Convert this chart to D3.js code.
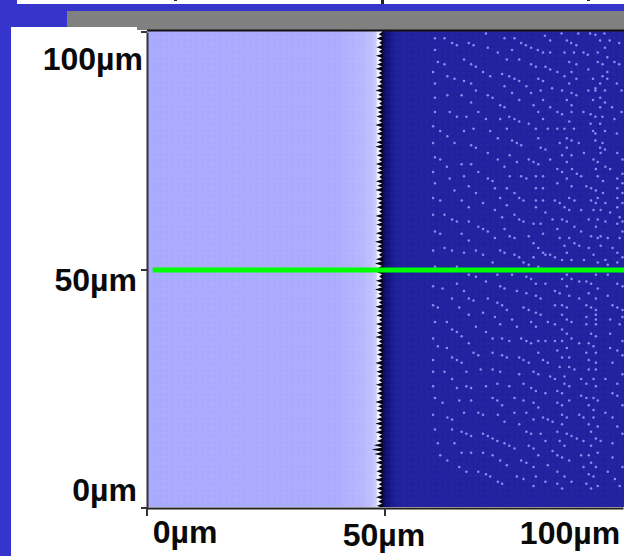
<!DOCTYPE html>
<html>
<head>
<meta charset="utf-8">
<script src="https://d3js.org/d3.v7.min.js"></script>
<style>
  html, body { margin: 0; padding: 0; background: #3535cc; overflow: hidden; }
  text { font-family: "Liberation Sans", Arial, sans-serif; font-weight: bold; fill: #0a0a0a; }
</style>
</head>
<body>
<div id="container"></div>
<script>
// axis ticks (um)
var xTicks = [0, 50, 100];
var yTicks = [0, 50, 100];
// hand placed label offsets, labels in the original are not lined up
var xLabelX = [185, 384, 570];
var xLabelY = [543, 546, 544];
var yLabelX = [137, 137, 143];
var yLabelY = [501, 291, 70];

// position of the horizontal scan line (um)
var scanY = 50;
var scanStartX = 1.2;

// interface root and tips from top to bottom (um), one tooth each
var interfaceRoot = 49.4;
var interfaceTips = [48.7, 48.3, 48.8, 48.2, 48.7, 48.1, 48.6, 48.4, 48.1, 48.7,
  48.2, 48.8, 48.3, 48.0, 48.6, 48.3, 48.8, 48.1, 48.5, 48.2,
  48.7, 48.0, 48.6, 48.3, 48.8, 48.2, 48.0, 48.6, 48.3, 48.7,
  48.1, 48.5, 48.3, 48.8, 48.1, 48.4, 48.0, 48.7, 48.2, 48.6,
  48.3, 48.8, 48.0, 48.4, 48.2, 48.7, 48.1, 48.6, 47.9, 48.4,
  48.2, 48.7, 48.1, 47.9, 48.6, 48.3, 48.8, 48.1, 48.4, 47.9,
  48.6, 48.2, 48.7, 48.0, 48.4, 48.2, 48.8, 48.1, 48.6, 48.3,
  48.0, 48.7, 48.2, 48.5, 48.3, 48.8, 48.0, 48.6, 48.2, 48.4,
  48.7, 48.1, 48.6, 48.3, 48.8, 48.0, 48.5, 48.2, 48.7, 48.3,
  48.0, 48.6, 48.1, 48.7, 48.3, 47.7, 47.2, 47.8, 48.5, 48.1,
  48.7, 48.2, 48.6, 48.0, 48.7, 48.3, 48.6, 48.1, 48.6, 48.3];

// particles, one row per y (um) with its x values (um)
var dotRows = [
  [99.7, [71.2, 87.1, 90.6, 93.1, 96.1]], [99.4, [94.2]], [99.2, [83.6]],
  [98.7, [60.5, 62.5, 75.1, 77.2]], [98.2, [84.7, 88.2, 95.2, 97.2]],
  [97.7, [64.1, 67.6, 78.6, 89.1, 99.2]], [97.2, [65.1, 68.6, 79.6, 90.2]],
  [96.7, [71.6, 80.7, 96.2]], [96.2, [60.5, 76.7, 82.1]],
  [95.7, [73.7, 83.2, 84.7, 87.7, 89.7, 91.7, 94.7]], [95.2, [92.6]],
  [94.7, [96.7]], [94.2, [66.6, 75.6, 78.2]], [93.7, [61.1, 88.7, 94.7, 98.2]],
  [93.2, [62.5, 68.1, 80.7, 90.2, 95.7, 99.2]], [92.7, [69.1, 81.7, 83.7]],
  [92.1, [84.7, 92.7]], [91.6, [60.1, 70.6, 86.2, 89.2, 96.7]], [91.2, [74.6]],
  [90.7, [63.1, 72.1, 76.1, 87.7, 95.7]], [90.2, [64.6, 77.2, 82.2, 90.2, 93.7, 96.7]],
  [89.7, [66.6, 78.2, 83.2]], [89.2, [60.5, 68.1, 88.7, 95.2, 98.7]],
  [88.6, [75.1, 79.7]], [88.2, [85.1, 94.2]],
  [87.7, [69.1, 82.7, 87.2, 92.7, 94.2, 96.2, 99.7]], [87.2, [76.7, 80.7, 89.2]],
  [86.7, [63.1, 66.1, 71.6, 90.2]], [86.2, [60.5, 72.6, 95.2]],
  [85.7, [78.2, 83.2, 88.2, 93.7]], [85.2, [68.1, 96.2]], [84.6, [74.2, 81.2, 89.2]],
  [84.2, [75.1, 84.7, 95.2, 97.7]], [83.2, [60.5, 63.6, 69.6, 82.2, 86.2, 89.2, 91.7, 99.7]],
  [82.7, [87.2, 93.2]], [82.2, [65.1, 67.1, 76.1, 94.2, 95.7]],
  [81.7, [71.2, 74.2, 77.2, 83.2, 98.2]], [81.2, [78.2, 88.7]],
  [80.7, [80.2, 93.2, 95.2]], [80.2, [60.1]],
  [79.7, [68.6, 75.6, 81.7, 84.2, 86.2, 87.7, 89.7]], [79.2, [61.6, 66.6, 72.1, 93.7, 96.2]],
  [78.7, [94.2, 98.7]], [78.1, [63.1]], [77.7, [73.7, 82.2, 88.2]],
  [77.2, [76.7, 89.2, 94.2]], [76.7, [60.1, 64.6, 77.7, 86.7, 90.7, 95.7]],
  [76.2, [68.1, 78.6]], [75.7, [69.1, 82.7, 88.2, 95.2]], [75.3, [83.7, 96.2]],
  [74.6, [71.6, 91.8, 95.3, 98.8]], [74.1, [76.2, 87.2, 89.2]], [73.7, [60.5]],
  [73.2, [61.6, 73.7, 80.2, 84.7, 93.8, 99.9]], [72.7, [77.7, 81.2, 88.2, 94.7]],
  [72.2, [66.1, 68.1, 82.2]], [71.7, [63, 75.1, 96.3]], [71.2, [86.2, 89.3, 94.3, 97.3]],
  [70.6, [60.1, 69.6, 87.2]], [70.2, [90.3, 99.9]],
  [69.7, [66.6, 76.2, 78.6, 81.7, 83.2, 91.2, 94.7]], [69.2, [63.6, 71.6, 79.7, 88.2, 98.8]],
  [68.7, [72.6, 95.8]], [68.2, [60.5, 86.2, 99.9]], [67.6, [67.6, 89.2, 92.3]],
  [67.2, [73.1, 75.6, 81.7, 83.2, 93.3, 98.8]], [66.7, [64.6, 94.3]],
  [66.2, [69.1, 77.2, 95.8, 99.9]], [65.1, [60.1, 74.2, 78.2, 88.7, 94.7, 98.8]],
  [64.6, [61.6, 66.1, 79.1, 81.7, 83.2, 85.7, 89.8, 93.3]],
  [64.1, [70.6, 86.7, 94.3, 96.3, 99.9]], [63.6, [75.6]],
  [63.2, [67.6, 81.7, 87.7, 98.8]], [62.6, [73.1, 88.7, 91.2, 93.8, 95.3]],
  [62.1, [83.7, 97.3]], [61.6, [60.1, 62.5, 77.2]], [61.1, [74.6, 99.3]],
  [60.6, [64.1, 78.2, 85.2, 87.2, 92.8, 94.7]], [60.2, [65.1, 67.6, 79.1, 88.2, 96.3, 99.9]],
  [59.7, [81.2, 82.7, 98.8]], [59.1, [69.6, 89.8, 94.3]], [58.6, [70.6, 75.1, 86.2]],
  [58.1, [60.5, 71.6, 91.2, 99.9]], [57.6, [61.6, 66.1, 83.2]],
  [57.1, [76.2, 80.2, 93.3, 95.3]], [56.7, [73.1, 77.2, 86.7, 88.7, 94.7, 96.8, 99.3]],
  [56.2, [67.6]], [55.6, [81.2, 89.8]], [55.1, [87.7, 90.8, 95.3]],
  [54.6, [62.5, 82.2, 92.8, 97.8]], [54.1, [60.1, 64.1, 69.1, 74.2]],
  [53.6, [66.6, 75.1, 83.2, 88.2, 98.8]], [53.2, [70.6, 77.2, 83.7, 84.7, 93.8]],
  [52.7, [78.2, 81.2, 85.7, 99.9]], [52.1, [87.2, 89.2, 91.8, 96.3]],
  [51.6, [72.6, 79.1, 94.7, 98.8]], [51.1, [80.2, 96.8]], [50.7, [60.5, 65.1, 82.2]],
  [49, [67.6, 73.6, 76.7, 88.2, 94.3, 96.8]], [48.6, [69.1, 79.7]],
  [48.1, [80.7, 87.2, 89.2]], [47.6, [71.2, 90.8, 92.3]],
  [47.1, [65.1, 81.7, 83.7, 93.3, 98.8]], [46.6, [60.1, 74.2, 88.2, 99.9]],
  [46.1, [62.1, 75.1, 94.7]], [45.6, [66.6, 77.7, 85.7]], [45.1, [79.7, 86.7, 92.8]],
  [44.6, [81.7, 88.7, 96.8]], [44, [64.1, 67.6, 71.6, 82.7, 90.8, 94.3]],
  [43.6, [68.6]], [43.1, [73.6]], [42.6, [60.1, 74.6, 85.7, 87.2, 92.3, 97.8]],
  [42.1, [61.1, 65.6, 79.1, 88.2, 93.3, 98.8]], [41.6, [75.6, 80.2, 94.3, 99.9]],
  [41, [70.6, 81.7]], [40.6, [67.6, 82.7, 87.2, 94.3]], [40.1, [73.1, 92.3, 99.9]],
  [39.6, [76.7, 88.2, 94.3, 97.3]], [39.1, [60.5, 63, 80.7, 84.2, 89.2]],
  [38.6, [74.2, 85.7, 92.3, 94.3, 99.3]], [38.1, [69.1, 77.7, 81.7]], [37.5, [64.1, 87.2]],
  [37, [65.1, 71.2]], [36.6, [88.2, 93.3, 97.3]], [36.1, [66.1, 94.3]],
  [35.6, [60.1, 72.6, 74.6, 78.6, 89.2]], [35.1, [76.1, 79.7, 82.2, 83.7, 85.7, 87.2, 99.9]],
  [34.6, [67.6, 80.7, 90.8, 92.8]], [34, [61.1, 93.8]], [33.6, [63, 88.2, 97.3]],
  [33.1, [86.2, 98.8]], [32.6, [68.6, 72.6, 82.2, 92.3, 94.3]], [32.1, [69.6, 74.6, 99.9]],
  [31.6, [64.1, 75.6, 78.2, 87.2, 88.7]], [31.1, [60.1, 65.1, 79.1, 83.2, 92.8]],
  [30.5, [66.1, 80.2, 84.2, 94.3, 97.8]], [29.6, [86.7, 88.7]],
  [29.1, [70.1, 72.6, 89.8, 92.8, 94.3]], [28.6, [60.1, 62.5, 67.1, 74.2, 81.2]],
  [28.1, [78.2, 82.2, 99.9]], [27.6, [84.7, 87.7]], [27.1, [64.1, 85.7, 91.2, 93.8, 96.3]],
  [26.1, [73.6, 79.1, 87.7, 92.3, 98.8]], [25.6, [60.1, 67.1, 71.2, 76.1, 88.7, 94.3]],
  [25.2, [65.1, 68.1, 80.7]], [24.6, [81.7, 86.2]], [24.1, [83.7, 87.2, 97.8]],
  [23.6, [91.2, 98.8]], [23.1, [60.5, 72.6, 77.2, 92.3, 93.8]],
  [22.6, [65.6, 68.1, 73.6, 79.1, 88.7, 94.7]], [22.1, [62.1, 81.2, 86.2]],
  [21.6, [74.6, 87.2, 92.8, 99.9]], [21.1, [82.2]], [20.6, [93.8]],
  [20, [66.6, 69.6, 77.2, 79.7, 96.3]], [19.6, [60.1, 70.6, 73.7, 87.2, 90.8]],
  [19, [63.1, 83.2, 88.2, 91.7, 93.8, 97.8]], [18.6, [64.1, 81.2, 84.2]], [18.1, [75.1, 85.2]],
  [17.6, [78.2, 87.2, 92.8]], [17.1, [94.7, 98.8]], [16.5, [60.5, 64.1]],
  [16, [66.1, 79.7, 86.2, 93.3]], [15.6, [67.1, 70.6, 80.7, 82.7, 88.2, 99.9]],
  [15.1, [68.1, 71.6, 89.2]], [14.6, [72.6, 90.3, 94.3]], [14.1, [73.6, 83.7, 86.7, 91.7, 95.3]],
  [13.6, [61.1, 64.6, 75.1, 97.8]], [13.1, [76.1, 80.2, 87.7, 93.3]], [12.5, [77.2, 81.2]],
  [12, [85.2]], [11.6, [66.1, 68.1, 70.6, 94.7]], [11.1, [61.6, 72.6, 82.2, 86.2, 91.2, 92.8]],
  [10.6, [87.2, 97.8]], [10, [63.1, 74.2, 78.6, 88.7]], [9.5, [79.7, 93.3]], [9, [75.6, 84.2]],
  [8.6, [65.6, 81.2, 91.7, 94.3, 99.9]], [7.6, [67.1, 69.6, 86.2, 96.8]], [7.1, [71.2, 92.8]],
  [6.6, [72.1, 77.7, 81.7, 87.7, 93.8]], [6.1, [79.1, 98.3]], [5.5, [73.7, 83.7, 89.2]],
  [5.1, [74.6, 86.2, 92.3]], [4.6, [81.2, 94.7, 99.3]], [4.1, [87.2, 93.3]]
];

var width = 624, height = 556;

var svg = d3.select("#container").append("svg")
  .attr("width", width)
  .attr("height", height)
  .style("display", "block");

// slide furniture behind the chart
svg.append("rect").attr("x", 17).attr("y", 0).attr("width", 607).attr("height", 4).attr("fill", "#fff");
svg.append("rect").attr("x", 67).attr("y", 11).attr("width", 557).attr("height", 20).attr("fill", "#808080");
svg.append("rect").attr("x", 11).attr("y", 27).attr("width", 613).attr("height", 529).attr("fill", "#fff");
svg.append("rect").attr("x", 137).attr("y", 27).attr("width", 487).attr("height", 3).attr("fill", "#808080");
// bits of the cut off heading
svg.append("rect").attr("x", 174).attr("y", 0).attr("width", 3).attr("height", 1).attr("fill", "#222");
svg.append("rect").attr("x", 381).attr("y", 0).attr("width", 3).attr("height", 4).attr("fill", "#222");
svg.append("rect").attr("x", 587).attr("y", 0).attr("width", 3).attr("height", 1).attr("fill", "#222");

var x = d3.scaleLinear().domain([0, 100]).range([147, 623]);
var y = d3.scaleLinear().domain([0, 100]).range([508, 32]);

var defs = svg.append("defs");
defs.append("clipPath").attr("id", "plot")
  .append("rect").attr("x", 148).attr("y", 31).attr("width", 476).attr("height", 476);

var lightGrad = defs.append("linearGradient").attr("id", "lightGrad");
[[0, "#aaaaff"], [0.82, "#adadff"], [0.94, "#b8b8ff"], [0.985, "#c4c4ff"], [1, "#d4d4ff"]].forEach(function (s) {
  lightGrad.append("stop").attr("offset", s[0]).attr("stop-color", s[1]);
});
var darkGrad = defs.append("linearGradient").attr("id", "darkGrad");
[[0, "#0a0a50"], [0.3, "#14147e"], [0.65, "#1e1e98"], [1, "#2222a0"]].forEach(function (s) {
  darkGrad.append("stop").attr("offset", s[0]).attr("stop-color", s[1]);
});
// faint speckle on both phases
var speckle = defs.append("pattern").attr("id", "speckle")
  .attr("width", 6).attr("height", 6).attr("patternUnits", "userSpaceOnUse");
speckle.append("rect").attr("x", 0).attr("y", 0).attr("width", 3).attr("height", 3).attr("fill", "#fff").attr("opacity", 0.015);
speckle.append("rect").attr("x", 3).attr("y", 3).attr("width", 3).attr("height", 3).attr("fill", "#000").attr("opacity", 0.01);

var soft = defs.append("filter").attr("id", "soft")
  .attr("x", "-5%").attr("y", "-5%").attr("width", "110%").attr("height", "110%");
soft.append("feGaussianBlur").attr("stdDeviation", 0.5);
var softer = defs.append("filter").attr("id", "softer")
  .attr("x", "-20%").attr("y", "-2%").attr("width", "140%").attr("height", "104%");
softer.append("feGaussianBlur").attr("stdDeviation", 0.35);

var plot = svg.append("g").attr("clip-path", "url(#plot)");

// left phase, edge zone, right phase
plot.append("rect").attr("x", x(0)).attr("y", y(100) - 1)
  .attr("width", x(48.3) - x(0)).attr("height", y(0) - y(100) + 1).attr("fill", "url(#lightGrad)");
plot.append("rect").attr("x", x(48.3)).attr("y", y(100) - 1)
  .attr("width", x(interfaceRoot) - x(48.3)).attr("height", y(0) - y(100) + 1).attr("fill", "#f2f2ff");
plot.append("rect").attr("x", x(interfaceRoot)).attr("y", y(100) - 1)
  .attr("width", x(100.5) - x(interfaceRoot)).attr("height", y(0) - y(100) + 1).attr("fill", "#2222a0");
plot.append("rect").attr("x", x(interfaceRoot)).attr("y", y(100) - 1)
  .attr("width", x(53.5) - x(interfaceRoot)).attr("height", y(0) - y(100) + 1).attr("fill", "url(#darkGrad)");
plot.append("rect").attr("x", x(0)).attr("y", y(100) - 1)
  .attr("width", x(100.5) - x(0)).attr("height", y(0) - y(100) + 1).attr("fill", "url(#speckle)");

// jagged interface, black teeth pointing left
var toothStep = 100 / interfaceTips.length;
var teethPts = [];
interfaceTips.forEach(function (tip, i) {
  teethPts.push({ x: interfaceRoot, y: 100 - i * toothStep });
  teethPts.push({ x: tip, y: 100 - (i + 0.5) * toothStep });
});
teethPts.push({ x: interfaceRoot, y: 0 });
var teeth = d3.area()
  .x0(function (d) { return x(interfaceRoot + 0.1); })
  .x1(function (d) { return x(d.x); })
  .y(function (d) { return y(d.y); });
plot.append("path").attr("d", teeth(teethPts)).attr("fill", "#050510").attr("filter", "url(#softer)");

// particles
var dots = [];
dotRows.forEach(function (row) {
  row[1].forEach(function (v) { dots.push({ x: v, y: row[0] }); });
});
plot.append("g").attr("filter", "url(#soft)")
  .selectAll("circle").data(dots).enter().append("circle")
  .attr("cx", function (d) { return x(d.x); })
  .attr("cy", function (d) { return y(d.y); })
  .attr("r", 1.25)
  .attr("fill", "#8c8cf0");

// green scan line
plot.append("line")
  .attr("x1", x(scanStartX)).attr("x2", x(100.5))
  .attr("y1", y(scanY)).attr("y2", y(scanY))
  .attr("stroke", "#00ff00").attr("stroke-width", 5);

// axes
var axisB = svg.append("g").attr("transform", "translate(0," + y(0) + ")")
  .call(d3.axisBottom(x).tickValues(xTicks).tickSizeInner(8).tickSizeOuter(0).tickFormat(function (d) { return d + "µm"; }));
var axisL = svg.append("g").attr("transform", "translate(" + x(0) + ",0)")
  .call(d3.axisLeft(y).tickValues(yTicks).tickSizeInner(6).tickSizeOuter(0).tickFormat(function (d) { return d + "µm"; }));

axisB.select(".domain").attr("stroke", "#222").attr("stroke-width", 2);
axisL.select(".domain").attr("stroke", "#333").attr("stroke-width", 2);
axisB.selectAll(".tick line").attr("stroke", "#333").attr("stroke-width", 2)
  .attr("opacity", function (d) { return d === 100 ? 0 : 1; });
axisL.selectAll(".tick line").attr("stroke", "#333").attr("stroke-width", 2);
svg.append("line").attr("x1", x(0)).attr("x2", 624).attr("y1", 30.5).attr("y2", 30.5)
  .attr("stroke", "#111").attr("stroke-width", 2);

axisB.selectAll(".tick").attr("transform", null);
axisB.selectAll(".tick line").attr("transform", function (d) { return "translate(" + x(d) + ",0)"; });
axisB.selectAll(".tick text")
  .attr("font-size", 32)
  .attr("text-anchor", "middle")
  .attr("dy", null)
  .attr("x", function (d, i) { return xLabelX[i]; })
  .attr("y", function (d, i) { return xLabelY[i] - y(0); });

axisL.selectAll(".tick").attr("transform", null);
axisL.selectAll(".tick line").attr("transform", function (d) { return "translate(0," + y(d) + ")"; });
axisL.selectAll(".tick text")
  .attr("font-size", 32)
  .attr("text-anchor", "end")
  .attr("dy", null)
  .attr("x", function (d, i) { return yLabelX[i] - x(0); })
  .attr("y", function (d, i) { return yLabelY[i]; });
axisB.attr("font-family", null);
axisL.attr("font-family", null);
</script>
</body>
</html>
